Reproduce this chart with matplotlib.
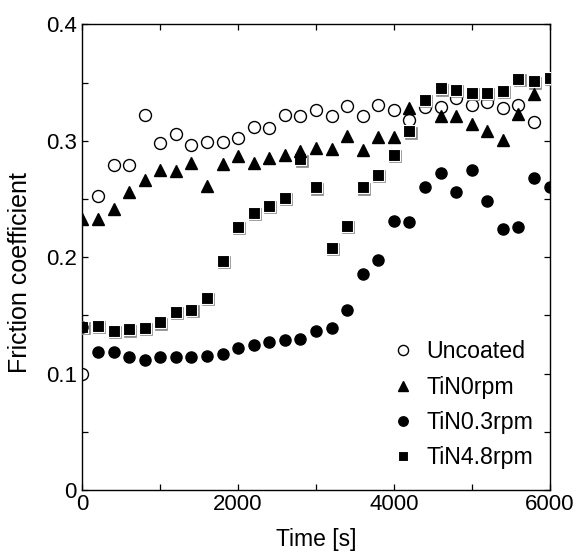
import numpy as np
import matplotlib
matplotlib.use("Agg")
from matplotlib import pyplot as plt
from matplotlib.transforms import offset_copy
from matplotlib.ticker import MultipleLocator, FuncFormatter

plt.rcParams['font.family'] = ['Liberation Sans', 'DejaVu Sans']
plt.rcParams['font.size'] = 16

# time axis [s], sampled every 200 s
t_all = list(range(0, 6001, 200))

# Uncoated (last sample at 5800 s)
t_unc = t_all[:30]
mu_unc = [0.100, 0.253, 0.279, 0.279, 0.322, 0.298, 0.306, 0.296, 0.299, 0.299,
          0.302, 0.312, 0.311, 0.322, 0.321, 0.326, 0.321, 0.330, 0.321, 0.331,
          0.326, 0.318, 0.329, 0.329, 0.337, 0.331, 0.333, 0.328, 0.331, 0.316]

# TiN 0 rpm (4400 s and 6000 s hidden behind squares)
t_tin0 = [0, 200, 400, 600, 800, 1000, 1200, 1400, 1600, 1800, 2000, 2200, 2400,
          2600, 2800, 3000, 3200, 3400, 3600, 3800, 4000, 4200, 4600, 4800, 5000,
          5200, 5400, 5600, 5800]
mu_tin0 = [0.233, 0.233, 0.241, 0.256, 0.266, 0.275, 0.274, 0.281, 0.261, 0.280,
           0.287, 0.281, 0.285, 0.288, 0.291, 0.294, 0.293, 0.304, 0.292, 0.303,
           0.303, 0.328, 0.321, 0.321, 0.314, 0.308, 0.301, 0.323, 0.340]

# TiN 0.3 rpm
mu_tin03 = [0.140, 0.119, 0.119, 0.114, 0.112, 0.114, 0.114, 0.114, 0.115, 0.117,
            0.122, 0.125, 0.127, 0.129, 0.130, 0.137, 0.139, 0.155, 0.186, 0.198,
            0.231, 0.230, 0.260, 0.272, 0.256, 0.275, 0.248, 0.224, 0.226, 0.268,
            0.260]

# TiN 4.8 rpm
mu_tin48 = [0.140, 0.141, 0.137, 0.138, 0.139, 0.144, 0.153, 0.155, 0.165, 0.197,
            0.226, 0.238, 0.244, 0.251, 0.284, 0.260, 0.208, 0.227, 0.260, 0.271,
            0.288, 0.308, 0.335, 0.345, 0.344, 0.341, 0.341, 0.343, 0.353, 0.351,
            0.354]

fig = plt.figure(figsize=(5.76, 5.52), dpi=100)
ax = fig.add_axes([0.143, 0.112, 0.811, 0.844])

unc, = ax.plot(t_unc, mu_unc, 'o', mfc='white', mec='black', mew=1.0, ms=8.6,
               linestyle='none', label='Uncoated', zorder=2)

# shadow for squares
shadow = offset_copy(ax.transData, fig=fig, x=1.2, y=-1.2, units='dots')
ax.plot(t_all, mu_tin48, 's', mfc='#8a8a8a', mec='#8a8a8a', mew=0.5, ms=8.4,
        linestyle='none', transform=shadow, zorder=3)
sq, = ax.plot(t_all, mu_tin48, 's', mfc='black', mec='white', mew=0.8, ms=8.2,
              linestyle='none', label='TiN4.8rpm', zorder=3)

tri, = ax.plot(t_tin0, mu_tin0, '^', color='black', ms=8.6,
               linestyle='none', label='TiN0rpm', zorder=4)
dot, = ax.plot(t_all, mu_tin03, 'o', color='black', ms=8.0,
               linestyle='none', label='TiN0.3rpm', zorder=5)

ax.set_xlim(0, 6000)
ax.set_ylim(0, 0.4)

ax.xaxis.set_major_locator(MultipleLocator(1000))
ax.yaxis.set_major_locator(MultipleLocator(0.05))
ax.xaxis.set_major_formatter(FuncFormatter(lambda v, p: '%d' % v if round(v) % 2000 == 0 else ''))
ax.yaxis.set_major_formatter(FuncFormatter(
    lambda v, p: ('0' if abs(v) < 1e-9 else '%.1f' % v) if abs(v * 10 - round(v * 10)) < 1e-6 else ''))
ax.tick_params(direction='in', length=4.5, width=0.9, top=True, right=True,
               pad=3)
ax.tick_params(axis='y', pad=4)
for s in ax.spines.values():
    s.set_linewidth(1.0)

ax.set_xlabel('Time [s]', fontsize=16.5, labelpad=9)
ax.set_ylabel('Friction coefficient', fontsize=18)
ax.yaxis.set_label_coords(-0.107, 0.468)

ax.legend(handles=[unc, tri, dot, sq], loc='lower right', frameon=False,
          bbox_to_anchor=(1.0, 0.01), handlelength=0.8, handletextpad=0.6,
          labelspacing=0.53, markerscale=0.85, fontsize=16.7, borderpad=0.2)

fig.savefig('out.png', dpi=100)
